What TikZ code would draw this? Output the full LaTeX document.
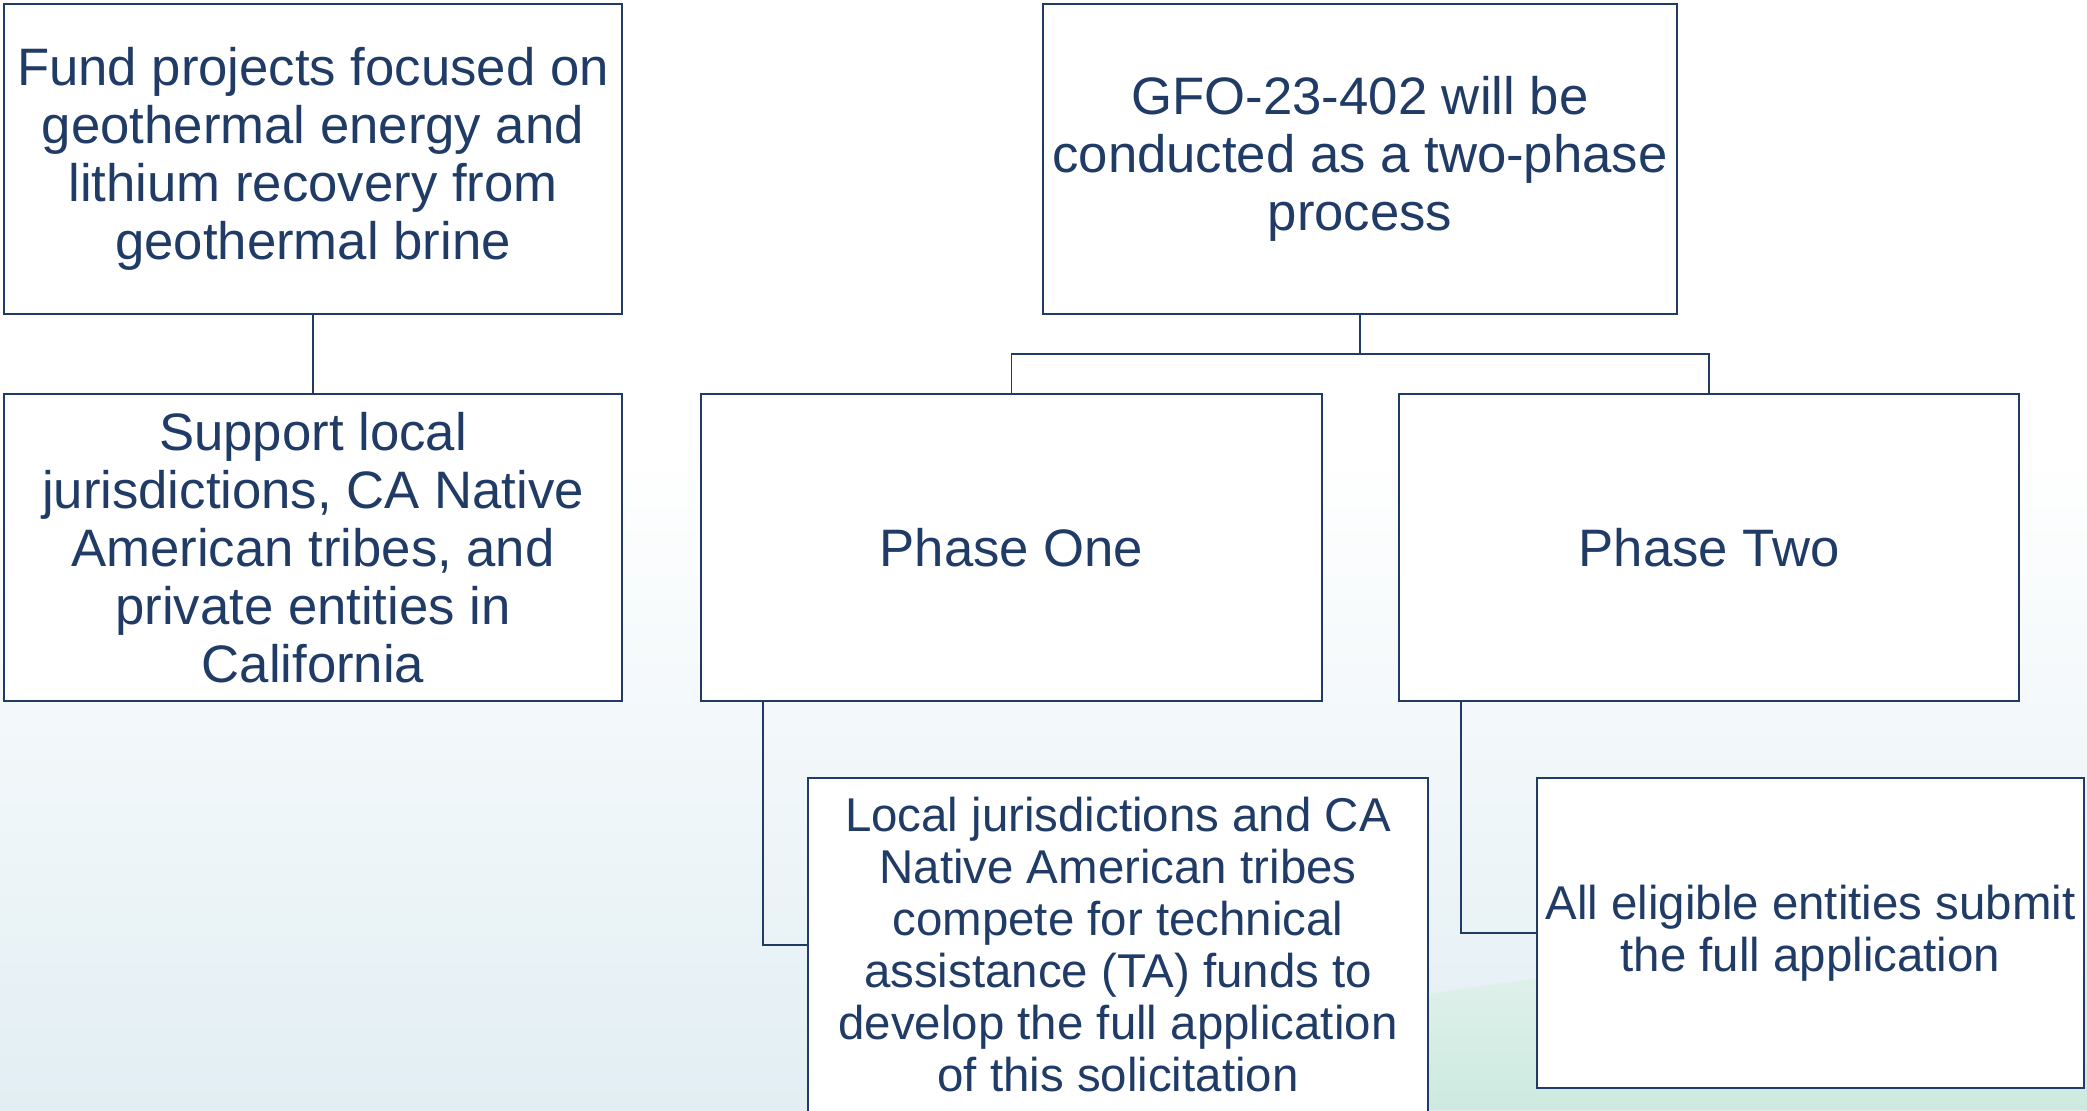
\documentclass[tikz,border=0pt]{standalone}
\usepackage{fontspec}
\setmainfont{Liberation Sans}
\usetikzlibrary{positioning}
\definecolor{navy}{HTML}{1F3B66}
\definecolor{bgblue}{HTML}{E2EEF3}
\definecolor{bggreen}{HTML}{CDEAE0}
\definecolor{bgpale}{HTML}{E8F4F0}
\tikzset{
  box/.style={draw=navy, line width=1.5pt, fill=white, text=navy, align=center, inner sep=0pt},
  bigtext/.style={font=\fontsize{30}{33}\selectfont},
  smalltext/.style={font=\fontsize{27}{29.6}\selectfont},
  link/.style={draw=navy, line width=1.1pt},
}
\begin{document}
\begin{tikzpicture}[x=0.02cm, y=-0.02cm]
  \useasboundingbox (0, 0) rectangle (2087, 1110);
  % background
  \fill [white] (0, 0) rectangle (2087, 1110);
  \shade [top color=white, bottom color=bgblue] (0, 450) rectangle (2087, 1110);
  \shade [top color=bgpale, bottom color=bggreen] (1420, 995) -- (2087, 900) -- (2087, 1110) -- (1420, 1110) -- cycle;

  \node [box, bigtext, minimum width=12.36cm, minimum height=6.2cm] (fund) at (313, 159)
    {Fund projects focused on\\geothermal energy and\\lithium recovery from\\geothermal brine};
  \node [box, bigtext, minimum width=12.36cm, minimum height=6.14cm] (support) at (313, 547.5)
    {Support local\\jurisdictions, CA Native\\American tribes, and\\private entities in\\California};
  \node [box, bigtext, minimum width=12.68cm, minimum height=6.2cm] (gfo) at (1360, 159)
    {GFO-23-402 will be\\conducted as a two-phase\\process};
  \node [box, bigtext, minimum width=12.42cm, minimum height=6.14cm] (one) at (1011.5, 547.5) {Phase One};
  \node [box, bigtext, minimum width=12.4cm, minimum height=6.14cm] (two) at (1709, 547.5) {Phase Two};
  \node [box, smalltext, minimum width=12.4cm, minimum height=6.68cm] (local) at (1118, 945)
    {Local jurisdictions and CA\\Native American tribes\\compete for technical\\assistance (TA) funds to\\develop the full application\\of this solicitation};
  \node [box, smalltext, minimum width=10.94cm, minimum height=6.2cm] (all) at (1810.5, 933)
    {All eligible entities submit\\the full application};

  \draw [link] (fund) -- (support);
  \draw [link] (gfo.south) -- ++(0, 39) coordinate (split) -| (one.north);
  \draw [link] (split) -| (two.north);
  \draw [link] ([xshift=1.26cm]one.south west) |- (local.west);
  \draw [link] ([xshift=1.26cm]two.south west) |- (all.west);
\end{tikzpicture}
\end{document}
